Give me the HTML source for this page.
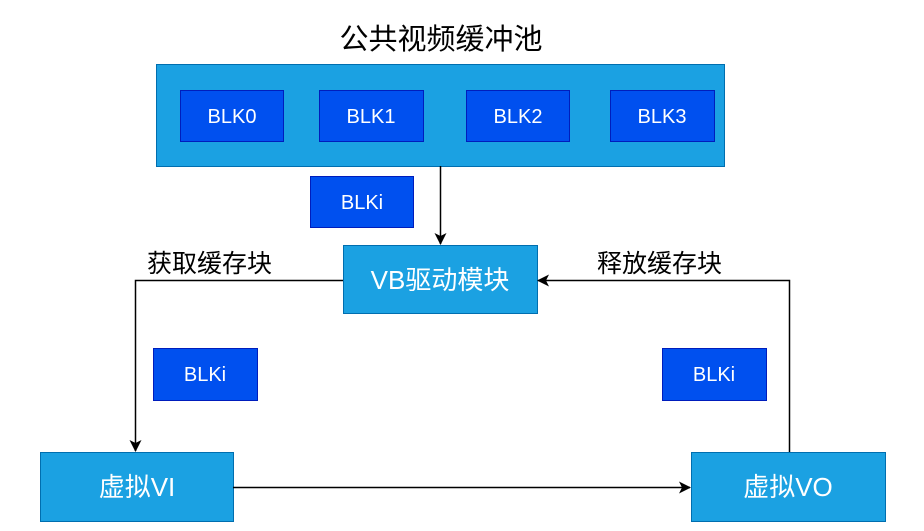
<!DOCTYPE html>
<html><head><meta charset="utf-8"><style>
body{margin:0;background:#fff}
svg{display:block}
text{font-family:"Liberation Sans","Noto Sans CJK SC",sans-serif}
</style></head><body>
<svg width="924" height="531" viewBox="0 0 924 531" xmlns="http://www.w3.org/2000/svg">
<defs><marker id="a" markerWidth="12" markerHeight="12" refX="11" refY="6" orient="auto" markerUnits="userSpaceOnUse"><path d="M0,0 L12,6 L0,12 L3,6 Z" fill="#000"/></marker></defs>
<text x="441" y="49" font-size="29" text-anchor="middle" fill="#000">公共视频缓冲池</text>
<rect x="156.5" y="64.5" width="568" height="102" fill="#1ba1e2" stroke="#006eaf"/>
<g fill="#0050ef" stroke="#001dbc">
<rect x="180.5" y="90.5" width="103" height="51"/>
<rect x="319.5" y="90.5" width="104" height="51"/>
<rect x="466.5" y="90.5" width="103" height="51"/>
<rect x="610.5" y="90.5" width="104" height="51"/>
<rect x="310.5" y="176.5" width="103" height="51"/>
<rect x="153.5" y="348.5" width="104" height="52"/>
<rect x="662.5" y="348.5" width="104" height="52"/>
</g>
<g fill="#fff" font-size="20" text-anchor="middle">
<text x="232" y="123">BLK0</text>
<text x="371" y="123">BLK1</text>
<text x="518" y="123">BLK2</text>
<text x="662" y="123">BLK3</text>
<text x="362" y="209">BLKi</text>
<text x="205" y="381">BLKi</text>
<text x="714" y="381">BLKi</text>
</g>
<g fill="#1ba1e2" stroke="#006eaf">
<rect x="343.5" y="245.5" width="194" height="68"/>
<rect x="40.5" y="452.5" width="193" height="69"/>
<rect x="691.5" y="452.5" width="194" height="69"/>
</g>
<g fill="#fff" font-size="26" text-anchor="middle">
<text x="440" y="289">VB驱动模块</text>
<text x="137" y="496">虚拟VI</text>
<text x="788" y="496">虚拟VO</text>
</g>
<g stroke="#000" stroke-width="1.5" fill="none">
<path d="M440.5 166 V244" marker-end="url(#a)"/>
<path d="M343 280.5 H135.5 V451" marker-end="url(#a)"/>
<path d="M233 487.5 H690" marker-end="url(#a)"/>
<path d="M789.5 452 V280.5 H538" marker-end="url(#a)"/>
</g>
<g font-size="25" fill="#000">
<text x="147" y="272">获取缓存块</text>
<text x="597" y="272">释放缓存块</text>
</g>
</svg>
</body></html>
